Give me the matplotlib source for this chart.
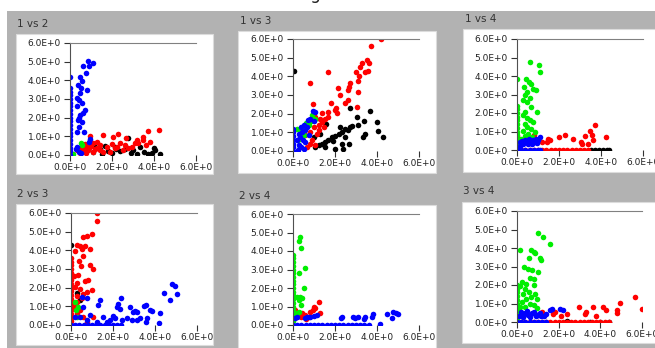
import matplotlib
matplotlib.use("Agg")
import matplotlib.pyplot as plt
from matplotlib.patches import Rectangle

# ---------------- data ----------------
PAIR_TITLES = ["1 vs 2", "1 vs 3", "1 vs 4", "2 vs 3", "2 vs 4", "3 vs 4"]
X_TICKS = [0, 2, 4, 6]
X_TICK_LABELS = ["0.0E+0", "2.0E+0", "4.0E+0", "6.0E+0"]
Y_TICKS = [0, 1, 2, 3, 4, 5, 6]
Y_TICK_LABELS = ["0.0E+0", "1.0E+0", "2.0E+0", "3.0E+0", "4.0E+0", "5.0E+0", "6.0E+0"]

# 1 vs 2
p12_black_x = [1.20, 1.45, 1.65, 2.15, 2.40, 2.75, 3.00, 3.35, 3.50, 4.00,
               4.05, 4.30, 1.10, 1.80, 2.00, 2.60, 2.90, 3.20, 3.70, 3.90,
               1.50, 2.20]
p12_black_y = [0.45, 0.32, 0.50, 0.45, 0.23, 0.93, 0.27, 0.45, 0.18, 0.39,
               0.27, 0.05, 0.15, 0.20, 0.10, 0.30, 0.10, 0.05, 0.08, 0.12,
               0.05, 0.30]
p12_red_x = [3.70, 4.25, 0.95, 1.59, 2.03, 2.30, 2.67, 3.17, 3.49, 3.46,
             3.10, 3.60, 2.94, 1.43, 1.75, 2.22, 1.11, 0.79, 0.48, 2.51,
             1.43, 1.90, 0.87, 1.11, 2.78, 2.38, 3.25, 1.27, 0.63, 2.14,
             1.59, 0.48, 0.32, 0.60, 0.70, 0.90, 1.00, 1.30, 0.55, 0.75,
             1.20, 2.00, 2.60, 3.80]
p12_red_y = [1.31, 1.34, 1.02, 1.08, 0.99, 1.11, 0.93, 0.81, 0.99, 0.81,
             0.63, 0.54, 0.45, 0.54, 0.45, 0.45, 0.63, 0.45, 0.36, 0.27,
             0.27, 0.18, 0.27, 0.18, 0.36, 0.63, 0.63, 0.72, 0.27, 0.36,
             0.18, 0.09, 0.27, 0.50, 0.60, 0.35, 0.50, 0.40, 0.15, 0.10,
             0.30, 0.60, 0.55, 0.70]
p12_green_x = [0.50, 0.58, 0.15]
p12_green_y = [0.62, 0.55, 0.04]
p12_blue_x = [0, 0, 0, 0, 0, 0, 0, 0, 0, 0,
              0, 0, 0, 0, 0, 0, 0, 0, 0, 0,
              0.87, 1.08, 0.63, 0.92, 0.75, 0.48, 0.59, 0.40, 0.52, 0.83,
              0.48, 0.32, 0.44, 0.56, 0.35, 0.71, 0.63, 0.48, 0.44, 0.37,
              0.56, 0.43, 0.35, 0.67, 0.95, 0.92, 0.32, 0.43, 0.30, 0.50]
p12_blue_y = [0.0, 0.2, 0.4, 0.6, 0.8, 1.0, 1.2, 1.4, 1.6, 1.8,
              2.0, 2.2, 2.4, 2.6, 2.8, 3.0, 3.2, 3.4, 3.6, 4.2,
              5.05, 4.93, 4.75, 4.75, 4.39, 4.20, 3.94, 3.73, 3.58, 3.46,
              3.31, 3.05, 2.96, 2.78, 2.63, 2.42, 2.24, 2.15, 1.97, 1.88,
              1.79, 1.52, 1.25, 1.25, 0.84, 0.72, 0.45, 0.18, 0.30, 0.10]

# 1 vs 3
p13_black_x = [0.03, 3.67, 2.72, 3.04, 3.40, 3.99, 4.04, 4.30, 3.43, 3.31,
               2.72, 2.80, 2.48, 2.33, 2.17, 2.01, 1.85, 1.69, 1.53, 1.38,
               1.22, 1.06, 1.58, 1.30, 2.33, 2.67, 2.40, 1.50, 2.00, 0.98,
               2.25, 2.48, 2.60, 1.90, 3.10]
p13_black_y = [4.29, 2.15, 2.32, 1.83, 1.62, 1.56, 1.08, 0.75, 0.93, 0.75,
               1.29, 1.35, 1.20, 1.02, 0.93, 0.79, 0.75, 0.61, 0.48, 0.36,
               0.31, 0.22, 1.44, 0.93, 0.40, 0.36, 0.13, 0.22, 0.13, 0.75,
               1.29, 0.75, 1.10, 0.55, 1.40]
p13_red_x = [4.19, 3.72, 3.51, 3.62, 3.28, 3.20, 3.43, 3.56, 2.99, 1.65,
             3.12, 3.09, 2.72, 2.67, 2.14, 3.09, 2.25, 2.64, 0.79, 2.61,
             2.48, 1.82, 0.93, 2.06, 3.04, 1.98, 1.69, 1.38, 0.82, 0.90,
             1.06, 0.66, 1.53, 1.38, 1.22, 1.06, 0.74, 1.22, 0.98, 0.59,
             0.82, 1.30, 1.69, 0.98, 1.46, 2.10, 1.15]
p13_red_y = [6.00, 5.60, 4.88, 4.74, 4.70, 4.49, 4.25, 4.29, 4.25, 4.25,
             4.02, 3.77, 3.63, 3.41, 3.36, 3.18, 3.00, 3.27, 3.63, 2.73,
             2.59, 2.59, 2.51, 2.33, 2.37, 2.19, 2.10, 2.06, 1.02, 0.57,
             0.30, 0.22, 1.74, 1.56, 1.38, 1.83, 1.65, 1.11, 1.29, 0.84,
             0.40, 1.74, 1.83, 2.01, 1.29, 2.05, 0.90]
p13_green_x = [0.19, 0.40, 0.51, 0.90, 1.06, 0.74, 0.24, 0.35, 0.60, 0.85]
p13_green_y = [1.20, 1.02, 0.84, 1.92, 1.74, 1.38, 0.61, 0.22, 1.50, 1.60]
p13_blue_x = [0, 0, 0, 0, 0, 0, 0, 0.93, 1.06, 0.82,
              0.71, 0.98, 0.51, 0.66, 0.40, 0.43, 0.59, 0.35, 0.46, 0.27,
              0.59, 0.74, 0.40, 0.51, 0.30, 0.20, 0.25]
p13_blue_y = [0.0, 0.2, 0.4, 0.6, 0.8, 1.0, 1.2, 2.15, 2.10, 1.74,
              1.65, 1.62, 1.38, 1.29, 1.29, 1.02, 1.11, 0.75, 0.57, 0.30,
              0.48, 0.84, 0.22, 0.13, 0.93, 0.60, 0.05]

# 1 vs 4
p14_black_x = [3.5, 3.7, 3.9, 4.1, 4.3, 4.4]
p14_black_y = [0, 0, 0, 0, 0, 0]
p14_red_x = [0.0, 0.2, 0.4, 0.6, 0.8, 1.0, 1.2, 1.4, 1.6, 1.8,
             2.0, 2.2, 2.4, 2.6, 2.8, 3.0, 3.2, 3.4, 3.73, 3.49,
             3.56, 3.63, 3.25, 3.06, 3.10, 2.67, 2.30, 2.00, 1.48, 1.43,
             1.56, 4.22, 0.81, 0.00, 0.00, 1.20, 3.40]
p14_red_y = [0, 0, 0, 0, 0, 0, 0, 0, 0, 0,
             0, 0, 0, 0, 0, 0, 0, 0, 1.33, 1.01,
             0.79, 0.56, 0.74, 0.43, 0.34, 0.61, 0.83, 0.70, 0.61, 0.43,
             0.52, 0.70, 0.79, 0.75, 0.55, 0.45, 0.30]
p14_green_x = [0, 0, 0, 0, 0, 0, 0, 0, 0, 0,
               0, 0, 0, 0, 0.63, 1.05, 1.11, 0.44, 0.57, 0.68,
               0.32, 0.76, 0.92, 0.48, 0.37, 0.60, 0.29, 0.48, 0.68, 0.37,
               0.95, 0.29, 0.48, 0.60, 0.76, 0.37, 0.48, 0.68, 0.29, 0.52,
               0.84, 0.40, 0.20, 0.70]
p14_green_y = [0.0, 0.2, 0.4, 0.6, 0.8, 1.0, 1.2, 1.4, 1.6, 1.8,
               2.0, 2.2, 2.4, 3.82, 4.77, 4.58, 4.22, 3.82, 3.68, 3.59,
               3.41, 3.32, 3.23, 3.14, 2.99, 2.83, 2.72, 2.59, 2.32, 2.05,
               2.05, 1.87, 1.75, 1.60, 1.51, 1.42, 1.24, 1.15, 1.03, 0.88,
               0.97, 0.75, 0.60, 0.70]
p14_blue_x = [0.0, 0.2, 0.4, 0.6, 0.8, 1.0, 1.1, 0.13, 0.30, 0.45,
              0.60, 0.75, 0.90, 1.08, 0.37, 0.52, 0.68, 0.84, 1.00, 0.20,
              0.55, 0.95, 0.25, 0.70, 0.15]
p14_blue_y = [0, 0, 0, 0, 0, 0, 0, 0.43, 0.35, 0.43,
              0.50, 0.54, 0.60, 0.70, 0.55, 0.30, 0.38, 0.43, 0.52, 0.30,
              0.62, 0.40, 0.50, 0.30, 0.20]

# 2 vs 3
p23_black_x = [0.00, 0.27, 0.43]
p23_black_y = [4.30, 1.70, 1.34]
p23_red_x = [0, 0, 0, 0, 0, 0, 0, 0, 0, 0,
             0, 0, 0, 0, 0, 0, 0, 0, 0, 1.26,
             1.23, 0.99, 0.78, 0.59, 0.30, 0.43, 0.67, 0.51, 0.91, 0.19,
             0.59, 0.38, 0.91, 0.48, 1.04, 0.35, 0.14, 0.83, 0.67, 0.27,
             0.19, 0.43, 0.99, 0.78, 0.59, 0.30, 0.51, 0.27, 0.19, 0.43,
             0.59, 1.07, 0.30, 0.75]
p23_red_y = [0.0, 0.2, 0.4, 0.6, 0.8, 1.0, 1.2, 1.4, 1.6, 1.8,
             2.0, 2.2, 2.4, 2.6, 2.8, 3.0, 3.2, 3.4, 3.6, 6.00,
             5.59, 4.87, 4.75, 4.71, 4.27, 4.25, 4.21, 4.09, 4.09, 3.94,
             3.71, 3.41, 3.23, 3.14, 2.99, 2.69, 2.63, 2.42, 2.37, 2.24,
             2.03, 1.92, 1.85, 1.79, 1.67, 1.56, 1.43, 1.25, 0.99, 0.81,
             0.45, 0.45, 0.63, 0.18]
p23_green_x = [0.24, 0.30, 0.19, 0.35]
p23_green_y = [0.81, 0.45, 1.25, 0.99]
p23_blue_x = [0.0, 0.2, 0.4, 0.6, 0.8, 1.0, 1.2, 1.4, 1.6, 1.8,
              2.0, 2.2, 2.4, 4.81, 4.97, 4.44, 5.05, 4.73, 3.58, 3.46,
              3.77, 3.85, 4.25, 2.79, 2.95, 3.06, 3.14, 2.37, 2.26, 2.18,
              2.34, 1.39, 1.27, 0.78, 0.51, 0.59, 0.91, 0.43, 1.51, 1.99,
              2.10, 2.66, 3.30, 3.61, 3.55, 2.90, 3.14, 2.42, 4.17, 1.86,
              1.70, 1.23, 0.19, 0.75]
p23_blue_y = [0, 0, 0, 0, 0, 0, 0, 0, 0, 0,
              0, 0, 0, 2.20, 2.10, 1.70, 1.67, 1.34, 1.08, 1.02,
              0.81, 0.75, 0.66, 0.95, 0.72, 0.77, 0.72, 1.43, 1.11, 0.99,
              0.84, 1.34, 1.08, 1.43, 1.52, 0.95, 0.54, 0.45, 0.45, 0.48,
              0.36, 0.36, 0.36, 0.36, 0.18, 0.27, 0.27, 0.27, 0.09, 0.27,
              0.18, 0.18, 0.45, 0.27]

# 2 vs 4
p24_red_x = [1.22, 1.03, 0.98, 0.82, 1.30, 0.11, 0.43, 0.40, 0.59, 0.74,
             0.93, 0.00, 0.00, 0.00, 0.25, 0.60]
p24_red_y = [1.26, 0.90, 0.99, 0.72, 0.67, 0.81, 0.63, 0.45, 0.54, 0.45,
             0.81, 0.50, 0.70, 0.90, 0.50, 0.35]
p24_green_x = [0, 0, 0, 0, 0, 0, 0, 0, 0, 0,
               0, 0, 0, 0, 0, 0, 0, 0, 0, 0,
               0.35, 0.27, 0.40, 0.59, 0.30, 0.51, 0.19, 0.35, 0.43, 0.27,
               0.40, 0.19, 0.30]
p24_green_y = [0.0, 0.2, 0.4, 0.6, 0.8, 1.0, 1.2, 1.4, 1.6, 1.8,
               2.0, 2.2, 2.4, 2.6, 2.8, 3.0, 3.2, 3.4, 3.6, 3.8,
               4.77, 4.56, 4.14, 3.06, 2.79, 1.98, 1.53, 1.53, 1.44, 1.35,
               1.08, 0.63, 0.72]
p24_blue_x = [0.0, 0.2, 0.4, 0.6, 0.8, 1.0, 1.2, 1.4, 1.6, 1.8,
              2.0, 2.2, 2.4, 2.6, 2.8, 3.0, 3.2, 3.4, 3.6, 4.46,
              4.78, 4.89, 5.02, 4.70, 3.75, 3.83, 3.43, 3.40, 3.09, 2.96,
              2.88, 2.33, 2.29, 4.15, 1.14, 0.98, 0.82, 0.66, 0.59, 0.19,
              0.11]
p24_blue_y = [0, 0, 0, 0, 0, 0, 0, 0, 0, 0,
              0, 0, 0, 0, 0, 0, 0, 0, 0, 0.59,
              0.72, 0.67, 0.59, 0.40, 0.45, 0.59, 0.45, 0.31, 0.41, 0.36,
              0.45, 0.45, 0.36, 0.04, 0.54, 0.49, 0.45, 0.41, 0.36, 0.45,
              0.36]

# 3 vs 4
p34_black_x = [2.40, 3.50, 4.00, 4.40]
p34_black_y = [0.03, 0.00, 0.00, 0.00]
p34_red_x = [0.0, 0.2, 0.4, 0.6, 0.8, 1.0, 1.2, 1.4, 1.6, 1.8,
             2.0, 2.2, 2.4, 2.6, 2.8, 3.0, 3.2, 3.4, 3.6, 3.8,
             4.0, 4.2, 4.4, 5.65, 4.94, 4.78, 4.78, 4.14, 4.25, 3.66,
             3.31, 2.99, 3.25, 3.77, 2.39, 1.83, 1.75, 6.00, 0.05, 0.00,
             1.20, 2.10]
p34_red_y = [0, 0, 0, 0, 0, 0, 0, 0, 0, 0,
             0, 0, 0, 0, 0, 0, 0, 0, 0, 0,
             0, 0, 0, 1.35, 1.03, 0.67, 0.49, 0.81, 0.67, 0.81,
             0.54, 0.81, 0.41, 0.31, 0.45, 0.54, 0.41, 0.72, 0.72, 0.50,
             0.55, 0.30]
p34_green_x = [0, 0, 0, 0, 0, 0, 0, 0, 0, 0,
               0, 1.00, 1.24, 1.59, 0.16, 0.67, 0.80, 0.88, 0.56, 1.08,
               1.15, 0.32, 0.51, 0.72, 0.99, 0.64, 0.80, 0.24, 0.45, 0.16,
               0.40, 0.83, 0.56, 0.88, 0.29, 0.67, 0.45, 0.96, 0.24, 0.61,
               0.80, 0.40, 0.96, 0.16]
p34_green_y = [0.0, 0.2, 0.4, 0.6, 0.8, 1.0, 1.2, 1.4, 1.6, 1.8,
               2.0, 4.81, 4.59, 4.20, 3.87, 3.87, 3.78, 3.73, 3.46, 3.46,
               3.33, 2.97, 2.88, 2.79, 2.70, 2.40, 2.34, 2.16, 2.07, 1.93,
               1.80, 1.98, 1.62, 1.53, 1.50, 1.35, 1.26, 1.26, 1.08, 0.99,
               0.90, 0.81, 0.77, 0.81]
p34_blue_x = [0.0, 0.2, 0.4, 0.6, 0.8, 1.0, 1.2, 1.4, 1.67, 1.59,
              2.07, 2.20, 1.40, 0.10, 0.25, 0.40, 0.55, 0.70, 0.85, 1.00,
              1.15, 0.30, 0.60, 0.90, 0.20, 0.50, 0.80, 1.10, 1.30]
p34_blue_y = [0, 0, 0, 0, 0, 0, 0, 0, 0.72, 0.63,
              0.72, 0.67, 0.41, 0.35, 0.45, 0.50, 0.40, 0.50, 0.45, 0.40,
              0.35, 0.25, 0.25, 0.30, 0.55, 0.60, 0.55, 0.50, 0.30]

BLACK, RED, GREEN, BLUE = "#000000", "#ff0000", "#00ee00", "#0000ff"

# drawn in this order (black at the back, blue on top)
PANEL_SERIES = [
    [(p12_black_x, p12_black_y, BLACK), (p12_red_x, p12_red_y, RED),
     (p12_green_x, p12_green_y, GREEN), (p12_blue_x, p12_blue_y, BLUE)],
    [(p13_black_x, p13_black_y, BLACK), (p13_red_x, p13_red_y, RED),
     (p13_green_x, p13_green_y, GREEN), (p13_blue_x, p13_blue_y, BLUE)],
    [(p14_black_x, p14_black_y, BLACK), (p14_red_x, p14_red_y, RED),
     (p14_green_x, p14_green_y, GREEN), (p14_blue_x, p14_blue_y, BLUE)],
    [(p23_black_x, p23_black_y, BLACK), (p23_red_x, p23_red_y, RED),
     (p23_green_x, p23_green_y, GREEN), (p23_blue_x, p23_blue_y, BLUE)],
    [(p24_red_x, p24_red_y, RED), (p24_green_x, p24_green_y, GREEN),
     (p24_blue_x, p24_blue_y, BLUE)],
    [(p34_black_x, p34_black_y, BLACK), (p34_red_x, p34_red_y, RED),
     (p34_green_x, p34_green_y, GREEN), (p34_blue_x, p34_blue_y, BLUE)],
]

# ---------------- layout, in pixels of the 655x348 picture ----------------
W, H = 655, 348
# (white box l, t, r, b), (axes l, t, r, b), (title x, y)
LAYOUT = [
    ((16, 34, 213, 174), (70, 43, 196, 155), (17, 24)),
    ((238, 31, 436, 173), (293, 39, 419, 151), (240, 21)),
    ((463, 29, 668, 172), (517, 39, 643, 150), (465, 19)),
    ((16, 204, 213, 345), (71, 213, 197, 325), (17, 194)),
    ((238, 205, 436, 356), (293, 214, 419, 325), (239, 196)),
    ((462, 202, 668, 343), (517, 211, 642, 322), (463, 191)),
]
GRAY = "#b2b2b2"


def fig_rect(l, t, r, b):
    return [l / W, 1 - b / H, (r - l) / W, (b - t) / H]


fig = plt.figure(figsize=(W / 100, H / 100), dpi=100)
fig.patch.set_facecolor("white")

# gray panel background, white strip above and left
fig.patches.append(Rectangle((7 / W, 0), 1, (H - 11) / H, transform=fig.transFigure,
                             facecolor=GRAY, edgecolor="none", zorder=-3))
# caption above, only its descender is in view
fig.text(220 / W, 1 + 1 / H, "Scatter diagrams", fontsize=12, color="#222222",
         ha="left", va="baseline")

for title, series, (box, ax_box, tpos) in zip(PAIR_TITLES, PANEL_SERIES, LAYOUT):
    bl, bt, br, bb = box
    fig.patches.append(Rectangle((bl / W, 1 - bb / H), (br - bl) / W, (bb - bt) / H,
                                 transform=fig.transFigure, facecolor="white",
                                 edgecolor="#dcdcdc", linewidth=0.8, zorder=-2))
    fig.text(tpos[0] / W, 1 - tpos[1] / H, title, fontsize=7.5, color="#333333",
             ha="left", va="center")

    ax = fig.add_axes(fig_rect(*ax_box))
    ax.set_facecolor("none")
    for x, y, col in series:
        ax.scatter(x, y, s=16, c=col, linewidths=0, zorder=2)
    ax.set_xlim(0, 6)
    ax.set_ylim(0, 6)

    ax.spines["right"].set_visible(False)
    ax.spines["bottom"].set_visible(False)
    ax.spines["top"].set_color("#808080")
    ax.spines["top"].set_linewidth(0.8)
    ax.spines["left"].set_color("#505050")
    ax.spines["left"].set_linewidth(0.8)

    ax.set_xticks(X_TICKS)
    ax.set_xticklabels(X_TICK_LABELS)
    ax.set_yticks(Y_TICKS)
    ax.set_yticklabels(Y_TICK_LABELS)
    ax.tick_params(axis="x", length=4, width=0.8, pad=1.5, labelsize=6.5,
                   colors="#333333", labelcolor="#222222")
    ax.tick_params(axis="y", length=4, width=0.8, pad=2.5, labelsize=6.5,
                   colors="#333333", labelcolor="#222222")

fig.savefig("out.png", dpi=100)
